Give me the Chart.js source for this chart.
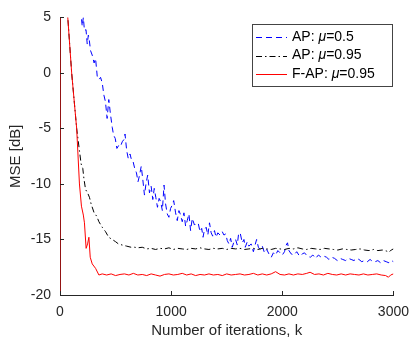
<!DOCTYPE html>
<html>
<head>
<meta charset="utf-8">
<script src="https://cdn.jsdelivr.net/npm/chart.js@4"></script>
<style>
  html, body { margin: 0; padding: 0; background: #fff; }
  #wrap { width: 418px; height: 341px; }
</style>
</head>
<body>
<div id="wrap"><canvas id="c" width="418" height="341"></canvas></div>
<script>
// ── series data ──────────────────────────────────────────────
const seriesNames = ['AP: μ=0.5', 'AP: μ=0.95', 'F-AP: μ=0.95'];

const apSlowIter = [0,100,190,200,210,220,234,245,255,263,275,290,307,320,335,351,365,380,395,409,424,439,455,470,482,497,512,530,545,560,575,585,600,614,630,645,658,672,688,702,716,731,745,760,775,789,805,820,835,848,862,877,892,906,921,936,950,965,980,995,1010,1023,1040,1055,1070,1082,1100,1115,1130,1145,1160,1175,1190,1210,1228,1245,1260,1275,1287,1300,1315,1330,1345,1360,1374,1390,1404,1420,1440,1460,1475,1491,1505,1520,1535,1550,1565,1580,1595,1608,1623,1640,1655,1667,1685,1700,1720,1740,1755,1769,1785,1800,1820,1840,1860,1880,1901,1920,1940,1960,1980,2000,2020,2035,2047,2060,2080,2105,2130,2155,2180,2200,2225,2252,2275,2300,2325,2350,2375,2398,2420,2445,2470,2495,2520,2544,2570,2595,2620,2645,2670,2690,2715,2740,2765,2790,2815,2836,2860,2885,2910,2935,2960,2982,3000];
const apSlowMse  = [20,10,5.2,4.2,5.0,3.8,3.9,2.6,3.4,3.0,2.0,1.6,0.9,1.3,-0.3,-0.6,-0.4,-0.9,-2.0,-2.6,-4.1,-2.4,-3.8,-4.9,-5.6,-5.9,-6.8,-6.5,-6.6,-6.2,-6.0,-5.5,-7.0,-7.7,-7.3,-7.9,-8.0,-8.6,-9.0,-9.8,-9.2,-8.4,-9.6,-11.0,-9.9,-9.2,-10.8,-10.2,-11.4,-10.4,-11.2,-12.1,-11.3,-11.6,-12.4,-10.1,-11.8,-12.7,-13.0,-12.2,-11.9,-11.5,-12.6,-13.3,-12.4,-12.7,-13.4,-12.6,-13.8,-13.3,-12.7,-14.2,-13.1,-13.7,-13.5,-13.6,-14.3,-14.0,-14.8,-14.1,-13.9,-14.6,-13.5,-14.4,-14.7,-14.2,-14.8,-14.4,-14.6,-14.3,-14.6,-14.5,-15.1,-15.4,-14.9,-15.7,-15.2,-15.0,-15.5,-14.4,-14.5,-15.3,-15.0,-15.7,-15.2,-15.6,-15.4,-16.1,-15.5,-15.0,-15.7,-15.9,-15.6,-16.2,-15.9,-16.3,-16.6,-16.2,-16.4,-16.0,-16.2,-16.4,-16.1,-15.5,-15.3,-16.0,-16.3,-16.4,-16.1,-16.5,-16.3,-16.2,-16.5,-16.6,-16.4,-16.7,-16.4,-16.6,-16.5,-16.6,-16.8,-16.6,-16.7,-16.9,-16.7,-16.8,-16.9,-16.7,-16.8,-16.9,-16.7,-16.8,-17.0,-16.9,-17.0,-16.8,-17.0,-17.0,-16.9,-17.1,-16.9,-17.0,-17.1,-16.9,-17.0];

const apFastIter = [0,70,105,150,175,190,205,215,230,248,265,280,307,330,350,380,410,438,470,500,526,560,600,640,672,700,740,780,820,860,900,940,980,1020,1060,1100,1140,1180,1220,1260,1300,1340,1380,1420,1460,1500,1540,1580,1620,1660,1700,1740,1780,1820,1860,1900,1940,1980,2020,2060,2100,2140,2180,2220,2260,2300,2340,2380,2420,2460,2500,2540,2580,2620,2660,2700,2740,2780,2820,2860,2900,2940,2960,2980,3000];
const apFastMse  = [40,5,0,-5,-7,-8.2,-8.6,-9.5,-10.5,-10.8,-11.2,-11.8,-12.6,-12.9,-13.4,-13.9,-14.3,-14.8,-15.0,-15.2,-15.4,-15.5,-15.6,-15.7,-15.7,-15.75,-15.7,-15.85,-15.8,-15.9,-15.8,-15.85,-15.75,-15.9,-15.8,-15.85,-15.9,-15.8,-15.85,-15.75,-15.85,-15.9,-15.8,-15.85,-15.8,-15.9,-15.8,-15.85,-15.8,-15.9,-15.85,-15.8,-15.9,-15.8,-15.85,-15.9,-15.8,-15.85,-15.9,-15.8,-15.85,-15.75,-15.85,-15.9,-15.8,-15.85,-15.9,-15.8,-15.85,-15.9,-15.95,-15.85,-15.9,-15.95,-15.9,-15.85,-15.95,-16.0,-15.9,-16.0,-15.95,-16.05,-16.15,-15.95,-15.85];

const fapIter = [0,0,70,105,150,175,193,210,220,235,248,260,272,290,320,350,380,420,460,500,540,580,620,660,700,740,780,820,860,900,940,980,1020,1060,1100,1140,1180,1220,1260,1300,1340,1380,1420,1460,1500,1540,1580,1620,1660,1700,1740,1780,1820,1860,1900,1940,1980,2020,2060,2100,2140,2180,2220,2250,2290,2330,2370,2410,2450,2490,2530,2570,2610,2650,2690,2730,2770,2810,2850,2890,2930,2955,2975,3000];
const fapMse  = [-40,40,5,0,-5,-10,-12,-12.8,-13.5,-15.8,-15.4,-14.8,-16.6,-17.2,-17.6,-18.2,-18.1,-18.2,-18.1,-18.25,-18.15,-18.1,-18.2,-18.05,-18.2,-18.15,-18.25,-18.1,-18.2,-18.3,-18.15,-18.1,-18.2,-18.15,-18.05,-18.2,-18.1,-18.25,-18.15,-18.2,-18.1,-18.2,-18.15,-18.25,-18.1,-18.2,-18.15,-18.1,-18.2,-18.15,-18.05,-18.2,-18.1,-18.2,-18.1,-17.9,-18.15,-18.2,-18.1,-18.2,-18.1,-18.15,-18.05,-17.95,-18.15,-18.1,-18.2,-18.05,-18.15,-18.2,-18.1,-18.2,-18.1,-18.15,-18.2,-18.1,-18.2,-18.15,-18.1,-18.2,-18.25,-18.4,-18.2,-18.1];

const xTicks = [0, 1000, 2000, 3000];
const yTicks = [5, 0, -5, -10, -15, -20];

const FONT = "'Liberation Sans', Arial, Helvetica, sans-serif";
const INK  = '#262626';

const pts = (xs, ys) => xs.map((x, i) => ({ x, y: ys[i] }));

const styles = [
    { color: '#0000ff', dash: [6, 4] },
    { color: '#000000', dash: [6, 3, 1.5, 3] },
    { color: '#ff0000', dash: [] }
];

// inward tick marks, like the original plot
const innerTicks = {
    id: 'innerTicks',
    afterDatasetsDraw(chart) {
        const { ctx, chartArea: a, scales: { x, y } } = chart;
        ctx.save();
        ctx.strokeStyle = INK;
        ctx.lineWidth = 1;
        ctx.beginPath();
        xTicks.forEach(v => {
            const px = Math.round(x.getPixelForValue(v)) + 0.5;
            ctx.moveTo(px, a.bottom); ctx.lineTo(px, a.bottom - 4);
        });
        yTicks.forEach(v => {
            const py = Math.round(y.getPixelForValue(v)) + 0.5;
            ctx.moveTo(a.left, py); ctx.lineTo(a.left + 4, py);
        });
        ctx.stroke();
        ctx.restore();
    }
};

// boxed legend with italic mu
const muLegend = {
    id: 'muLegend',
    afterDraw(chart) {
        const ctx = chart.ctx;
        const bx = 252.5, by = 24.5, bw = 140, bh = 62;
        ctx.save();
        ctx.fillStyle = '#fff';
        ctx.fillRect(bx, by, bw, bh);
        ctx.strokeStyle = '#444';
        ctx.lineWidth = 1;
        ctx.strokeRect(bx, by, bw, bh);
        seriesNames.forEach((name, i) => {
            const yy = 37 + i * 18.5;
            ctx.strokeStyle = styles[i].color;
            ctx.setLineDash(styles[i].dash);
            ctx.beginPath();
            ctx.moveTo(256, Math.round(yy) + 0.5);
            ctx.lineTo(287, Math.round(yy) + 0.5);
            ctx.stroke();
            ctx.setLineDash([]);
            const [pre, post] = name.split('μ');
            ctx.fillStyle = '#000';
            ctx.textBaseline = 'middle';
            let tx = 292;
            ctx.font = '14px ' + FONT;
            ctx.fillText(pre, tx, yy);
            tx += ctx.measureText(pre).width;
            ctx.font = 'italic 14px ' + FONT;
            ctx.fillText('μ', tx, yy);
            tx += ctx.measureText('μ').width;
            ctx.font = '14px ' + FONT;
            ctx.fillText(post, tx, yy);
        });
        ctx.restore();
    }
};

const series = [pts(apSlowIter, apSlowMse), pts(apFastIter, apFastMse), pts(fapIter, fapMse)];

new Chart(document.getElementById('c'), {
    type: 'line',
    data: {
        datasets: series.map((d, i) => ({
            label      : seriesNames[i],
            data       : d,
            borderColor: styles[i].color,
            borderDash : styles[i].dash,
            borderWidth: 1,
            pointRadius: 0,
            tension    : 0,
            order      : 2 - i
        }))
    },
    options: {
        responsive: false,
        animation : false,
        events    : [],
        layout    : { padding: { left: 0, right: 16, top: 14, bottom: 0 } },
        plugins   : { legend: { display: false }, tooltip: { enabled: false } },
        scales: {
            x: {
                type: 'linear', min: 0, max: 3000,
                afterBuildTicks: s => { s.ticks = xTicks.map(v => ({ value: v })); },
                afterFit: s => { s.height = 46; },
                ticks : { color: INK, font: { family: FONT, size: 14 }, padding: 9, maxRotation: 0,
                          callback: v => String(v) },
                grid  : { display: false, drawTicks: false },
                border: { display: true, color: INK, width: 1 },
                title : { display: true, text: 'Number of iterations, k', color: INK,
                          font: { family: FONT, size: 15 }, padding: { top: 0, bottom: 1 } }
            },
            y: {
                min: -20, max: 5,
                afterBuildTicks: s => { s.ticks = yTicks.map(v => ({ value: v })); },
                afterFit: s => { s.width = 60; },
                ticks : { color: INK, font: { family: FONT, size: 14 }, padding: 9,
                          callback: v => String(v) },
                grid  : { display: false, drawTicks: false },
                border: { display: true, color: INK, width: 1 },
                title : { display: true, text: 'MSE [dB]', color: INK,
                          font: { family: FONT, size: 15 }, padding: { top: 7, bottom: 0 } }
            }
        }
    },
    plugins: [innerTicks, muLegend]
});
</script>
</body>
</html>
